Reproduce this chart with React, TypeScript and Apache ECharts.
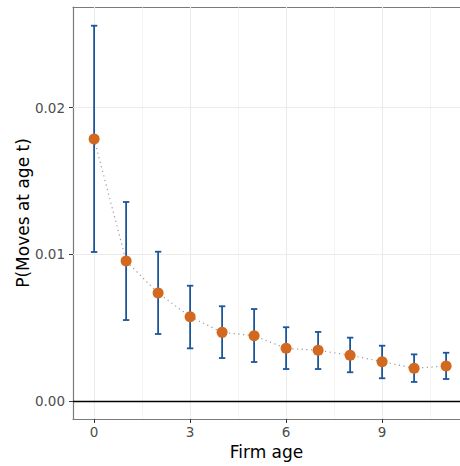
import React, { useEffect, useRef } from "react";
import * as echarts from "echarts";

const ages = [0, 1, 2, 3, 4, 5, 6, 7, 8, 9, 10, 11];
const prob = [0.01787, 0.00955, 0.00736, 0.00575, 0.00468, 0.00445, 0.00359, 0.00346, 0.00312, 0.00268, 0.00223, 0.00239];
const lower = [0.01016, 0.00552, 0.00457, 0.00359, 0.00293, 0.00266, 0.00218, 0.00218, 0.00196, 0.00155, 0.0013, 0.0015];
const upper = [0.02559, 0.01357, 0.01018, 0.00786, 0.00646, 0.00627, 0.00503, 0.00471, 0.00432, 0.00377, 0.00318, 0.00329];
const xTicks = [0, 3, 6, 9];
const yTicks = [0, 0.01, 0.02];
const xMinor = [1.5, 4.5, 7.5, 10.5];
const yMinor = [0.005, 0.015, 0.025];

const FONT = "DejaVu Sans";
const X_MIN = -0.66;
const X_MAX = 11.434;

export default function App() {
  const ref = useRef<HTMLDivElement>(null);
  useEffect(() => {
    document.body.style.margin = "0";
    const chart = echarts.init(ref.current!, undefined, { renderer: "svg" });
    const capHalf = 0.1;
    const border = { show: true, onZero: false, lineStyle: { color: "#7a7a7a", width: 1.2 } };
    const gridLines: any[] = [];
    xMinor.forEach((v) => gridLines.push({ xAxis: v, lineStyle: { color: "#ebebeb", width: 0.55, type: "solid" } }));
    yMinor.forEach((v) => gridLines.push({ yAxis: v, lineStyle: { color: "#ebebeb", width: 0.55, type: "solid" } }));
    xTicks.forEach((v) => gridLines.push({ xAxis: v, lineStyle: { color: "#ebebeb", width: 1.1, type: "solid" } }));
    yTicks.filter((v) => v !== 0).forEach((v) => gridLines.push({ yAxis: v, lineStyle: { color: "#ebebeb", width: 1.1, type: "solid" } }));
    gridLines.push({ yAxis: 0, lineStyle: { color: "#000000", width: 1.4, type: "solid" } });

    chart.setOption({
      animation: false,
      grid: {
        left: 73,
        right: 0,
        top: 7,
        bottom: 47,
        show: false,
      },
      xAxis: [
        {
          type: "value",
          min: X_MIN,
          max: X_MAX,
          name: "Firm age",
          nameLocation: "middle",
          nameGap: 20,
          nameTextStyle: { fontFamily: FONT, fontSize: 17, color: "#000000" },
          axisLine: border,
          splitLine: { show: false },
          axisTick: { show: true, length: 4, customValues: xTicks, lineStyle: { color: "#333333", width: 1 } },
          axisLabel: { customValues: xTicks, margin: 6, fontFamily: FONT, fontSize: 13.5, color: "#4d4d4d" },
        },
        {
          type: "value",
          position: "top",
          min: X_MIN,
          max: X_MAX,
          axisLine: border,
          splitLine: { show: false },
          axisTick: { show: false },
          axisLabel: { show: false },
        },
      ],
      yAxis: {
        type: "value",
        min: -0.001227,
        max: 0.026866,
        name: "P(Moves at age t)",
        nameLocation: "middle",
        nameGap: 42,
        nameMoveOverlap: false,
        nameTextStyle: { fontFamily: FONT, fontSize: 17, color: "#000000" },
        axisLine: border,
        splitLine: { show: false },
        axisTick: { show: true, length: 4, customValues: yTicks, lineStyle: { color: "#333333", width: 1 } },
        axisLabel: {
          customValues: yTicks,
          margin: 8,
          fontFamily: FONT,
          fontSize: 13.5,
          color: "#4d4d4d",
          formatter: (v: number) => v.toFixed(2),
        },
      },
      series: [
        {
          type: "line",
          data: [],
          z: 1,
          silent: true,
          markLine: {
            silent: true,
            z: 1,
            symbol: ["none", "none"],
            label: { show: false },
            emphasis: { disabled: true },
            data: gridLines,
          },
        },
        {
          type: "custom",
          z: 2,
          silent: true,
          data: ages.map((a, i) => [a, lower[i], upper[i]]),
          encode: { x: 0, y: [1, 2] },
          renderItem: (params: any, api: any) => {
            const x = api.value(0);
            const lo = api.value(1);
            const hi = api.value(2);
            const pLo = api.coord([x, lo]);
            const pHi = api.coord([x, hi]);
            const tL = api.coord([x - capHalf, hi]);
            const tR = api.coord([x + capHalf, hi]);
            const bL = api.coord([x - capHalf, lo]);
            const bR = api.coord([x + capHalf, lo]);
            const style = { stroke: "#1b5699", lineWidth: 1.8 };
            return {
              type: "group",
              children: [
                { type: "line", shape: { x1: pLo[0], y1: pLo[1], x2: pHi[0], y2: pHi[1] }, style },
                { type: "line", shape: { x1: tL[0], y1: tL[1], x2: tR[0], y2: tR[1] }, style },
                { type: "line", shape: { x1: bL[0], y1: bL[1], x2: bR[0], y2: bR[1] }, style },
              ],
            };
          },
        },
        {
          type: "line",
          z: 3,
          silent: true,
          data: ages.map((a, i) => [a, prob[i]]),
          symbol: "circle",
          symbolSize: 11,
          showSymbol: true,
          lineStyle: { color: "#999999", width: 1.2, type: [1.2, 3.5] },
          itemStyle: { color: "#d2691e", borderWidth: 0 },
        },
      ],
    });
    return () => chart.dispose();
  }, []);
  return <div ref={ref} style={{ width: 460, height: 466 }} />;
}
